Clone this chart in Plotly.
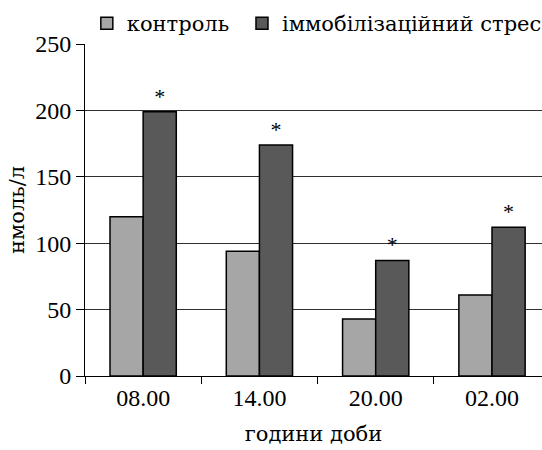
import plotly.graph_objects as go

categories = ["08.00", "14.00", "20.00", "02.00"]
control = [120, 94, 43, 61]
stress = [199, 174, 87, 112]
stress_marks = ["*", "*", "*", "*"]

FONT = "Liberation Serif"
CYR = "DejaVu Serif"

fig = go.Figure()
fig.add_trace(go.Bar(
    x=categories, y=control, name="контроль", legend="legend",
    marker=dict(color="#a6a6a6", line=dict(color="black", width=1.5)),
))
fig.add_trace(go.Bar(
    x=categories, y=stress, name="іммобілізаційний стрес", legend="legend2",
    marker=dict(color="#595959", line=dict(color="black", width=1.5)),
    text=stress_marks, textposition="outside", cliponaxis=False,
    textfont=dict(family=FONT, size=22, color="black"),
))

legend_common = dict(orientation="h", y=1.0, xanchor="left", yanchor="bottom",
                      font=dict(family=CYR, size=21, color="black"),
                      itemwidth=30, bgcolor="rgba(0,0,0,0)")

fig.update_layout(
    width=542, height=450,
    margin=dict(l=85, r=0, t=44, b=74, autoexpand=False),
    paper_bgcolor="white", plot_bgcolor="white",
    font=dict(family=FONT, size=24, color="black"),
    barmode="group", bargap=0.43, bargroupgap=0,
    showlegend=True,
    legend=dict(x=0.004, **legend_common),
    legend2=dict(x=0.3435, **legend_common),
    xaxis=dict(
        range=[-0.5, 3.43], showline=True, linecolor="black", linewidth=1,
        ticks="outside", tickson="boundaries", ticklen=7, tickcolor="black",
        showgrid=False, title=dict(text="години доби", standoff=16,
                                   font=dict(family=CYR, size=21)),
        tickfont=dict(family=FONT, size=24),
    ),
    yaxis=dict(
        range=[0, 250], dtick=50, showline=True, linecolor="black", linewidth=1,
        ticks="outside", ticklen=8, tickcolor="black",
        showgrid=True, gridcolor="#303030", gridwidth=1,
        zeroline=False, tickfont=dict(family=FONT, size=24),
        title=dict(text="нмоль/л", standoff=4, font=dict(family=CYR, size=21)),
    ),
)

fig.write_html("out.html")
